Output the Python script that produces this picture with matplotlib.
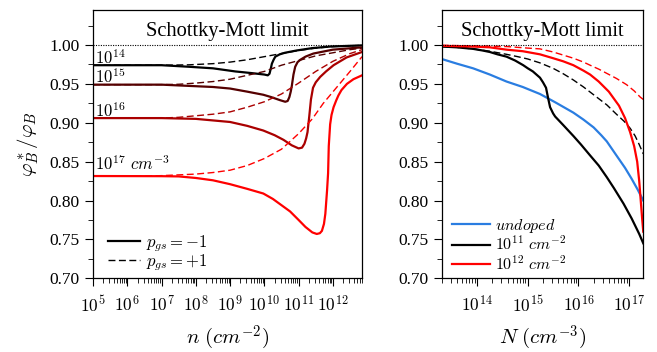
import matplotlib
matplotlib.use('Agg')
import matplotlib.pyplot as plt
import numpy as np
from matplotlib.ticker import LogLocator, FuncFormatter, MultipleLocator, NullFormatter

plt.rcParams['font.family'] = 'serif'
plt.rcParams['font.serif'] = ['Liberation Serif', 'DejaVu Serif']
plt.rcParams['mathtext.fontset'] = 'cm'

# ---- left panel: phi*/phi vs sheet density n (log10 of n), for four dopings
n14_s = [5, 7, 7.8, 8.5, 9.15, 9.6, 10.0, 10.1, 10.15, 10.19, 10.22, 10.27, 10.32, 10.45, 10.6,
         10.95, 11.4, 11.92, 12.85]
phi14_s = [0.974, 0.974, 0.972, 0.970, 0.966, 0.964, 0.962, 0.961, 0.963, 0.970, 0.976, 0.981, 0.985,
           0.988, 0.990, 0.993, 0.996, 0.998, 0.9995]
n14_d = [5, 7, 7.8, 8.5, 9.0, 9.5, 10.0, 10.5, 11.0, 11.5, 12.0, 12.85]
phi14_d = [0.974, 0.974, 0.9745, 0.976, 0.978, 0.981, 0.985, 0.989, 0.993, 0.996, 0.998, 0.9995]

n15_s = [5, 7, 7.5, 8.0, 8.5, 9.0, 9.5, 9.97, 10.2, 10.46, 10.61, 10.68, 10.73, 10.77, 10.80, 10.85,
         10.9, 10.97, 11.05, 11.2, 11.43, 12.0, 12.85]
phi15_s = [0.949, 0.949, 0.948, 0.947, 0.946, 0.944, 0.940, 0.936, 0.933, 0.929, 0.927, 0.928, 0.933,
           0.940, 0.947, 0.962, 0.972, 0.978, 0.981, 0.985, 0.989, 0.994, 0.997]
n15_d = [5, 7, 7.5, 8.0, 8.5, 9.0, 9.5, 10.0, 10.5, 11.0, 11.5, 12.0, 12.5, 12.85]
phi15_d = [0.949, 0.949, 0.9495, 0.951, 0.953, 0.956, 0.961, 0.966, 0.974, 0.980, 0.986, 0.990, 0.994, 0.996]

n16_s = [5, 7, 7.5, 8, 8.5, 9.0, 9.5, 9.97, 10.3, 10.56, 10.8, 11.0, 11.1, 11.17, 11.22, 11.26, 11.31,
         11.36, 11.42, 11.5, 11.63, 11.8, 12.02, 12.4, 12.85]
phi16_s = [0.906, 0.906, 0.9055, 0.905, 0.903, 0.901, 0.896, 0.890, 0.884, 0.878, 0.871, 0.867, 0.868,
           0.873, 0.880, 0.888, 0.908, 0.930, 0.945, 0.952, 0.959, 0.966, 0.974, 0.984, 0.991]
n16_d = [5, 7, 7.5, 8.0, 8.5, 9.0, 9.5, 10.0, 10.5, 11.0, 11.5, 12.0, 12.5, 12.85]
phi16_d = [0.906, 0.906, 0.907, 0.909, 0.911, 0.914, 0.920, 0.927, 0.937, 0.951, 0.966, 0.979, 0.989, 0.994]

n17_s = [5, 7, 7.5, 8.0, 8.5, 9.0, 9.5, 9.97, 10.25, 10.5, 10.75, 11.0, 11.2, 11.4, 11.53, 11.62,
         11.68, 11.74, 11.78, 11.83, 11.86, 11.88, 11.92, 11.96, 12.02, 12.1, 12.16, 12.25, 12.41,
         12.6, 12.85]
phi17_s = [0.8315, 0.8313, 0.831, 0.829, 0.826, 0.821, 0.815, 0.809, 0.802, 0.794, 0.786, 0.775, 0.766,
           0.759, 0.757, 0.758, 0.761, 0.770, 0.783, 0.813, 0.835, 0.870, 0.898, 0.910, 0.920, 0.929,
           0.935, 0.942, 0.950, 0.956, 0.961]
n17_d = [5, 6.5, 7.0, 7.5, 8.0, 8.5, 9.0, 9.5, 10.0, 10.5, 11.0, 11.4, 11.72, 12.12, 12.5, 12.85]
phi17_d = [0.8315, 0.8315, 0.832, 0.833, 0.834, 0.836, 0.839, 0.845, 0.854, 0.866, 0.886, 0.905, 0.925,
           0.946, 0.966, 0.985]

dopings = ['14', '15', '16', '17']
dop_colors = ['#000000', '#550000', '#aa0000', '#ff0000']
dop_label_y = [0.975, 0.951, 0.907, 0.839]

# ---- right panel: phi*/phi vs doping N (log10 of N)
N_blue = [13.30, 13.6, 13.92, 14.25, 14.58, 14.9, 15.24, 15.55, 15.9, 16.1, 16.3, 16.45, 16.56,
          16.75, 16.92, 17.05, 17.17, 17.28]
phi_blue = [0.982, 0.976, 0.970, 0.962, 0.953, 0.946, 0.937, 0.926, 0.913, 0.904, 0.894, 0.884, 0.876,
            0.858, 0.842, 0.828, 0.814, 0.800]
N_11_s = [13.30, 13.6, 13.92, 14.1, 14.25, 14.4, 14.58, 14.75, 14.91, 15.0, 15.1, 15.17, 15.24, 15.30,
          15.36, 15.40, 15.44, 15.50, 15.54, 15.7, 15.9, 16.05, 16.23, 16.4, 16.56, 16.7, 16.89,
          17.05, 17.2, 17.28]
phi_11_s = [0.998, 0.997, 0.995, 0.993, 0.991, 0.988, 0.985, 0.980, 0.974, 0.970, 0.966, 0.962, 0.958,
            0.952, 0.945, 0.932, 0.920, 0.912, 0.908, 0.897, 0.883, 0.872, 0.858, 0.845, 0.830, 0.816,
            0.796, 0.777, 0.757, 0.745]
N_11_d = [13.30, 13.6, 13.92, 14.25, 14.58, 14.8, 15.0, 15.24, 15.5, 15.7, 15.9, 16.1, 16.3, 16.56,
          16.75, 16.9, 17.02, 17.12, 17.2, 17.28]
phi_11_d = [0.998, 0.997, 0.995, 0.992, 0.988, 0.985, 0.982, 0.977, 0.970, 0.963, 0.955, 0.946, 0.936,
            0.923, 0.911, 0.902, 0.893, 0.883, 0.872, 0.860]
N_12_s = [13.30, 13.92, 14.25, 14.58, 14.9, 15.24, 15.5, 15.7, 15.9, 16.1, 16.23, 16.4, 16.6, 16.8,
          16.92, 17.02, 17.1, 17.16, 17.2, 17.23, 17.26, 17.28]
phi_12_s = [0.999, 0.998, 0.997, 0.994, 0.992, 0.988, 0.983, 0.979, 0.974, 0.967, 0.962, 0.953, 0.940,
            0.922, 0.906, 0.888, 0.870, 0.850, 0.825, 0.800, 0.775, 0.760]
N_12_d = [13.30, 13.92, 14.58, 15.0, 15.24, 15.5, 15.7, 15.9, 16.1, 16.23, 16.4, 16.56, 16.75, 16.95,
          17.1, 17.22, 17.28]
phi_12_d = [0.9995, 0.999, 0.998, 0.996, 0.995, 0.991, 0.987, 0.983, 0.978, 0.974, 0.969, 0.9635,
            0.957, 0.949, 0.941, 0.933, 0.930]

right_labels = [r'$undoped$', r'$10^{11}\ cm^{-2}$', r'$10^{12}\ cm^{-2}$']
right_colors = ['#2a7de1', '#000000', '#ff0000']

left_data = [(n14_s, phi14_s, n14_d, phi14_d), (n15_s, phi15_s, n15_d, phi15_d),
             (n16_s, phi16_s, n16_d, phi16_d), (n17_s, phi17_s, n17_d, phi17_d)]

DASH = (5, 2.5)


def style_axis(ax):
    ax.set_xscale('log')
    ax.set_ylim(0.70, 1.045)
    ax.yaxis.set_major_locator(MultipleLocator(0.05))
    ax.yaxis.set_minor_locator(MultipleLocator(0.025))
    ax.yaxis.set_major_formatter(FuncFormatter(lambda v, p: f'{v:.2f}'))
    ax.xaxis.set_major_locator(LogLocator(base=10, numticks=20))
    ax.xaxis.set_minor_locator(LogLocator(base=10, subs=np.arange(2, 10), numticks=20))
    ax.xaxis.set_minor_formatter(NullFormatter())
    ax.xaxis.set_major_formatter(FuncFormatter(lambda v, p: r'$10^{%d}$' % round(np.log10(v))))
    ax.tick_params(which='major', direction='out', length=6, width=0.8, labelsize=12.5)
    ax.tick_params(which='minor', direction='out', length=3.5, width=0.6)
    ax.tick_params(axis='x', which='major', pad=6)
    for s in ax.spines.values():
        s.set_linewidth(0.9)
    ax.axhline(1.0, color='k', lw=0.8, ls=(0, (1, 1.2)))
    # x in axes fraction, y in data units
    ax.text(0.5, 1.012, 'Schottky-Mott limit', transform=ax.get_yaxis_transform(),
            ha='center', va='baseline', fontsize=14.8)


fig = plt.figure(figsize=(6.57, 3.52), dpi=100)
ax1 = fig.add_axes([0.1416, 0.2094, 0.4094, 0.7622])
ax2 = fig.add_axes([0.6723, 0.2094, 0.3068, 0.7622])

# left panel
for (ns, ps, nd, pd), col, d, ly in zip(left_data, dop_colors, dopings, dop_label_y):
    ax1.plot(10.0 ** np.array(ns), ps, color=col, lw=1.6)
    ax1.plot(10.0 ** np.array(nd), pd, color=col, lw=1.0, dashes=DASH)
    lab = r'$10^{%s}$' % d if d != '17' else r'$10^{17}\ cm^{-3}$'
    ax1.text(10 ** 5.05, ly, lab, fontsize=12, va='baseline', ha='left')

ax1.set_xlim(1e5, 10 ** 12.85)
h1, = ax1.plot([], [], color='k', lw=1.6)
h2, = ax1.plot([], [], color='k', lw=1.0, dashes=DASH)
ax1.legend([h1, h2], [r'$p_{gs}=-1$', r'$p_{gs}=+1$'], loc='lower left',
           bbox_to_anchor=(0.0, -0.035), frameon=False, fontsize=12,
           handlelength=1.9, handletextpad=0.4, labelspacing=-0.1)
ax1.set_xlabel(r'$n\ (cm^{-2})$', fontsize=15, labelpad=6)
ax1.set_ylabel(r'$\varphi_B^*/\varphi_B$', fontsize=15, labelpad=6)

# right panel
hb, = ax2.plot(10.0 ** np.array(N_blue), phi_blue, color=right_colors[0], lw=1.6)
hk, = ax2.plot(10.0 ** np.array(N_11_s), phi_11_s, color=right_colors[1], lw=1.6)
ax2.plot(10.0 ** np.array(N_11_d), phi_11_d, color=right_colors[1], lw=1.0, dashes=DASH)
hr, = ax2.plot(10.0 ** np.array(N_12_s), phi_12_s, color=right_colors[2], lw=1.6)
ax2.plot(10.0 ** np.array(N_12_d), phi_12_d, color=right_colors[2], lw=1.0, dashes=DASH)
ax2.set_xlim(10 ** 13.30, 10 ** 17.28)
ax2.legend([hb, hk, hr], right_labels, loc='lower left', bbox_to_anchor=(-0.02, -0.035),
           frameon=False, fontsize=11.5, handlelength=2.4, handletextpad=0.3,
           labelspacing=0.05)
ax2.set_xlabel(r'$N\ (cm^{-3})$', fontsize=15, labelpad=6)

style_axis(ax1)
style_axis(ax2)

fig.savefig('out.png', dpi=100)
